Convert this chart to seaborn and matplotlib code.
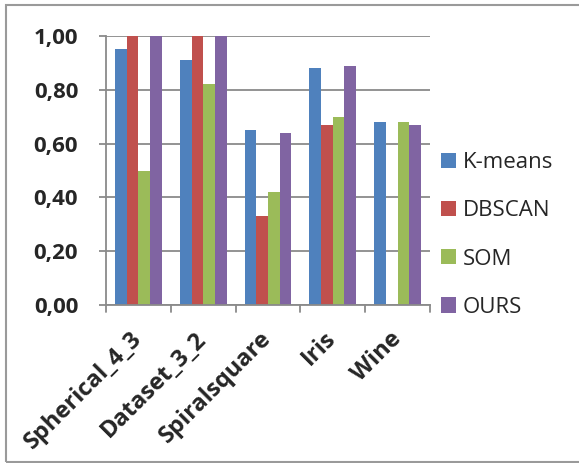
import matplotlib
matplotlib.use("Agg")
import matplotlib.pyplot as plt
import seaborn as sns
import pandas as pd
from matplotlib.patches import Rectangle

categories = ["Spherical_4_3", "Dataset_3_2", "Spiralsquare", "Iris", "Wine"]
methods = ["K-means", "DBSCAN", "SOM", "OURS"]
kmeans = [0.95, 0.91, 0.65, 0.88, 0.68]
dbscan = [1.00, 1.00, 0.33, 0.67, 0.00]
som = [0.50, 0.82, 0.42, 0.70, 0.68]
ours = [1.00, 1.00, 0.64, 0.89, 0.67]
yticks = [0.0, 0.2, 0.4, 0.6, 0.8, 1.0]
ytick_labels = ["0,00", "0,20", "0,40", "0,60", "0,80", "1,00"]

colors = ["#4F81BD", "#C0504D", "#9BBB59", "#8064A2"]

rows = []
for m, vals in zip(methods, [kmeans, dbscan, som, ours]):
    for c, v in zip(categories, vals):
        rows.append({"cat": c, "method": m, "value": v})
df = pd.DataFrame(rows)

sns.set_style("white")
plt.rcParams["font.family"] = ["Open Sans", "DejaVu Sans"]

fig = plt.figure(figsize=(5.79, 4.63), dpi=100)
ax = fig.add_axes([106/579, 1-305/463, (430-106)/579, (305-36)/463])

sns.barplot(data=df, x="cat", y="value", hue="method", palette=colors,
            width=0.72, gap=0, ax=ax, saturation=1, legend=True,
            edgecolor="none", linewidth=0)

ax.set_ylim(0, 1.0)
ax.set_xlim(-0.5, 4.5)
ax.set_yticks(yticks)
ax.set_yticklabels(ytick_labels, fontsize=16, fontweight="bold")
ax.set_xticks(range(len(categories)))
ax.set_xticklabels(categories, rotation=45, ha="right", va="center",
                   rotation_mode="anchor", fontsize=17, fontweight="bold")
ax.set_xlabel("")
ax.set_ylabel("")

ax.yaxis.grid(True, color="#8a8a8a", linewidth=1.3)
ax.set_axisbelow(True)
for s in ["top", "right"]:
    ax.spines[s].set_visible(False)
for s in ["left", "bottom"]:
    ax.spines[s].set_color("#8a8a8a")
    ax.spines[s].set_linewidth(1.3)

ax.tick_params(axis="y", length=5, color="#8a8a8a", width=1.3, pad=15, direction="out", left=True)
ax.tick_params(axis="x", length=0, pad=22)
for b in [-0.5, 0.5, 1.5, 2.5, 3.5, 4.5]:
    ax.plot([b, b], [0, -0.025], color="#8a8a8a", lw=1.3, clip_on=False,
            transform=ax.transData)

handles, labels = ax.get_legend_handles_labels()
leg = ax.legend(handles, labels, loc="center left",
                bbox_to_anchor=((441-106)/324, (305-235)/269),
                frameon=False, fontsize=16, handlelength=0.68, handleheight=0.68,
                handletextpad=0.3, labelspacing=1.22, borderpad=0, borderaxespad=0)

fig.patches.append(Rectangle((6/579, 1-462/463), 1.2, (462-5)/463,
                             transform=fig.transFigure, fill=False,
                             edgecolor="#9a9a9a", linewidth=1.5))

fig.savefig("out.png", dpi=100)
